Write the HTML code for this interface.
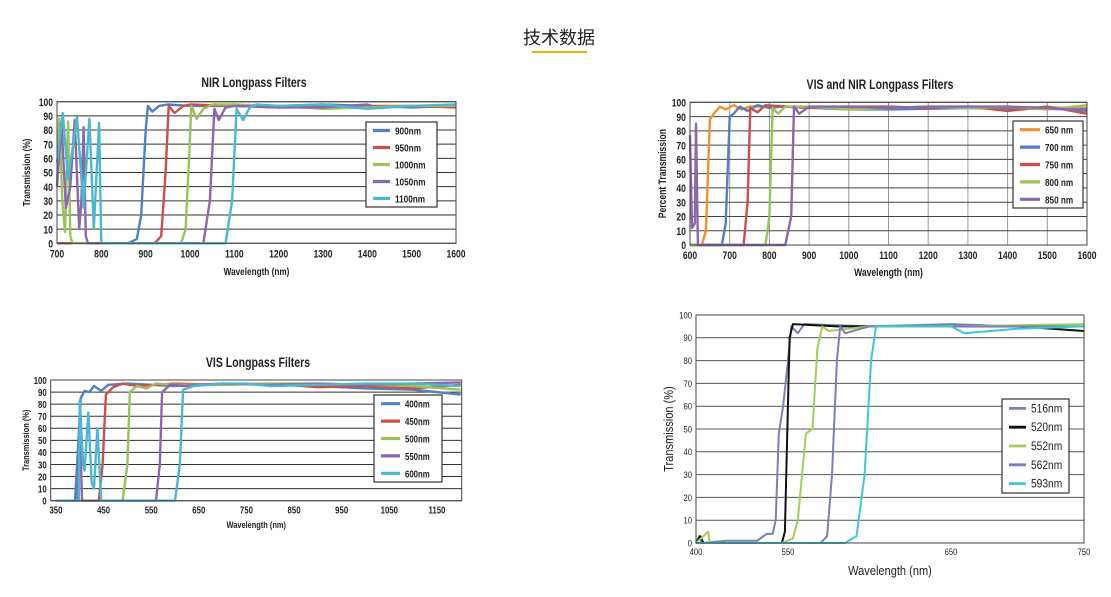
<!DOCTYPE html>
<html><head><meta charset="utf-8"><style>
body{margin:0;background:#fff;}
svg{display:block;font-family:"Liberation Sans Narrow","Liberation Sans",sans-serif;}
</style></head><body>
<svg id="root" width="1111" height="597" viewBox="0 0 1111 597">
<text x="559" y="44" text-anchor="middle" font-size="18" font-family="Liberation Sans, Noto Sans CJK SC, sans-serif" fill="#222">技术数据</text>
<rect x="532" y="51" width="55" height="2" fill="#e8b400"/>
</svg>
<script>
// ---------- data ----------
const nirSeriesNames=["900nm","950nm","1000nm","1050nm","1100nm"];
const nir900x=[700,860,880,890,900,905,915,930,950,1000,1100,1200,1300,1400,1500,1600];
const nir900y=[0,0,3,20,80,97,93,97,98,97,97,97,98,97,96,97];
const nir950x=[700,920,935,945,952,965,985,1000,1100,1200,1300,1400,1500,1600];
const nir950y=[0,0,5,50,97,92,97,98,97,96,97,97,97,96];
const nir1000x=[700,705,712,718,725,730,735,980,990,998,1003,1015,1030,1050,1100,1200,1300,1400,1500,1600];
const nir1000y=[40,88,30,8,86,5,0,0,10,60,97,88,95,98,98,97,95,96,97,97];
const nir1050x=[700,710,720,730,740,750,755,760,765,770,1030,1045,1055,1065,1080,1100,1200,1300,1400,1410];
const nir1050y=[40,85,25,40,87,10,30,82,5,0,0,30,95,87,96,97,96,96,98,97];
const nir1100x=[700,713,725,745,760,773,783,795,800,1080,1095,1105,1120,1135,1150,1200,1300,1400,1500,1600];
const nir1100y=[57,92,45,89,25,88,10,85,0,0,30,95,87,96,98,97,98,95,97,98];
const nirXTicks=[700,800,900,1000,1100,1200,1300,1400,1500,1600];

const visnirSeriesNames=["650 nm","700 nm","750 nm","800 nm","850 nm"];
const vn650x=[600,630,640,650,660,675,690,710,730,750,800,1000,1300,1600];
const vn650y=[0,0,10,88,92,97,95,98,95,97,97,96,97,96];
const vn700x=[600,680,690,700,710,725,745,770,800,830,1000,1100,1300,1600];
const vn700y=[0,0,15,90,92,97,94,98,96,97,95,95,96,95];
const vn750x=[600,735,745,752,770,790,900,1000,1100,1200,1300,1400,1500,1600];
const vn750y=[0,0,30,96,93,98,96,97,97,96,97,94,97,92];
const vn800x=[600,790,800,808,822,840,900,1000,1100,1200,1300,1400,1500,1600];
const vn800y=[0,0,20,96,92,97,97,95,96,97,96,97,95,98];
const vn850x=[600,605,612,615,620,840,855,862,875,900,1000,1100,1200,1300,1400,1500,1600];
const vn850y=[77,12,15,85,0,0,20,97,92,97,97,96,97,97,97,96,94];
const visnirXTicks=[600,700,800,900,1000,1100,1200,1300,1400,1500,1600];

const visSeriesNames=["400nm","450nm","500nm","550nm","600nm"];
const vis400x=[350,390,396,402,410,420,430,445,460,500,600,700,800,900,1000,1100,1200];
const vis400y=[0,0,40,85,91,90,95,91,96,97,95,97,96,95,93,92,88];
const vis450x=[350,440,448,455,470,490,520,600,700,800,900,1000,1100,1200];
const vis450y=[0,0,30,88,94,97,95,97,96,97,94,95,93,96];
const vis500x=[350,490,500,505,520,540,560,600,700,800,900,1000,1100,1200];
const vis500y=[0,0,30,90,95,93,97,96,96,97,97,96,95,92];
const vis550x=[350,395,400,405,560,568,573,590,620,700,800,900,1000,1100,1200];
const vis550y=[0,0,60,0,0,30,90,96,95,97,96,97,96,97,98];
const vis600x=[350,398,400,407,410,418,425,430,437,445,600,610,617,640,700,750,800,900,1000,1100,1200];
const vis600y=[0,0,83,30,25,73,15,10,60,0,0,30,92,95,97,97,95,96,97,97,95];
const visXTicks=[350,450,550,650,750,850,950,1050,1150];

const cSeriesNames=["516nm","520nm","552nm","562nm","593nm"];
const c516x=[400,405,410,450,500,515,525,530,535,542,548,552,556,560,600,650,700,750];
const c516y=[0,3,0,1,1,4,4,10,48,60,75,95,92,96,95,96,95,95];
const c520x=[400,407,412,540,545,548,551,553,580,600,650,700,750];
const c520y=[0,3,0,0,5,40,90,96,95,95,95,95,93];
const c552x=[400,420,422,500,540,553,556,561,565,568,571,575,600,650,750];
const c552y=[0,5,0,0,0,2,10,48,50,85,95,93,95,95,96];
const c562x=[400,570,574,577,580,582,585,600,650,700,750];
const c562y=[0,0,3,30,80,95,92,95,95,95,95];
const c593x=[400,585,592,597,601,604,650,660,700,750];
const c593y=[0,0,3,30,80,95,95,92,94,95];
const cXTicks=[400,550,650,750];

const yTicks=[0,10,20,30,40,50,60,70,80,90,100];

// ---------- drawing ----------
const NS="http://www.w3.org/2000/svg";
const root=document.getElementById('root');
function mk(tag,attrs,parent){const e=document.createElementNS(NS,tag);for(const k in attrs)e.setAttribute(k,attrs[k]);(parent||root).appendChild(e);return e;}

function drawChart(c){
  const g=mk('g',{});
  
  
  const xs=v=>{const t=c.xTicks,p=c.xPix;
    if(c.piece){for(let i=0;i<t.length-1;i++){if(v<=t[i+1]||i==t.length-2)return p[i]+(v-t[i])*(p[i+1]-p[i])/(t[i+1]-t[i]);}}
    return c.L+(v-c.x0)*(c.R-c.L)/(c.x1-c.x0);};
  const ys=v=>c.B-(v/100)*(c.B-c.T);
  const texts=[];
  mk('rect',{x:c.L,y:c.T,width:c.R-c.L,height:c.B-c.T,fill:'#fff'},g);
  if(c.vgrid){c.xTicks.forEach(t=>{const l=mk('line',{x1:xs(t),x2:xs(t),y1:c.T,y2:c.B,stroke:'#999','stroke-width':1},g);
    
    });}
  yTicks.forEach(t=>{
    const l=mk('line',{x1:c.L,x2:c.R,y1:ys(t),y2:ys(t),stroke:c.gridColor,'stroke-width':1},g);
    
    
    const tx=mk('text',{x:c.L-4,y:ys(t)+c.tf*0.38,'text-anchor':'end','font-size':c.tf,'font-weight':c.bold?'bold':'normal',fill:'#222'},g);
    tx.textContent=t;
    
    
    texts.push(tx);
  });
  c.xTicks.forEach(t=>{
    const tx=mk('text',{x:xs(t),y:c.B+c.tf+3,'text-anchor':'middle','font-size':c.tf,'font-weight':c.bold?'bold':'normal',fill:'#222'},g);
    tx.textContent=t;
    
    
    texts.push(tx);
  });
  c.series.forEach((s,i)=>{
    const d=s.x.map((v,j)=>(j?'L':'M')+xs(v).toFixed(1)+','+ys(s.y[j]).toFixed(1)).join('');
    const p=mk('path',{d:d,fill:'none',stroke:c.colors[i],'stroke-width':c.lw,'stroke-linejoin':'round'},g);
    
    
  });
  mk('rect',{x:c.L,y:c.T,width:c.R-c.L,height:c.B-c.T,fill:'none',stroke:'#444','stroke-width':1},g);
  if(c.title){const t=mk('text',{x:c.tx,y:c.ty,'text-anchor':'middle','font-size':13.5,'font-weight':'bold',fill:'#222'},g);
    t.textContent=c.title;
    
    
    texts.push(t);}
  const xt=mk('text',{x:(c.L+c.R)/2,y:c.xty,'text-anchor':'middle','font-size':c.af,'font-weight':c.bold?'bold':'normal',fill:'#222'},g);
  xt.textContent='Wavelength (nm)';
  
  
  texts.push(xt);
  const yt=mk('text',{x:0,y:0,transform:`translate(${c.ytx},${(c.T+c.B)/2}) rotate(-90)`,'text-anchor':'middle','font-size':c.af,'font-weight':c.bold?'bold':'normal',fill:'#222'},g);
  yt.textContent=c.ylabel;
  
  
  texts.push(yt);
  const lg=c.leg;
  const lb=mk('rect',{x:lg.x,y:lg.y,width:lg.w,height:lg.h,fill:'#fff',stroke:'#333','stroke-width':1.2},g);
  
  
  const step=lg.h/5;
  c.names.forEach((n,i)=>{
    const cy=lg.y+step*(i+0.5);
    const ln=mk('line',{x1:lg.x+7,x2:lg.x+7+lg.ll,y1:cy,y2:cy,stroke:c.colors[i],'stroke-width':c.lw+0.8},g);
    
    
    const t=mk('text',{x:lg.x+12+lg.ll,y:cy+4,'font-size':c.lf,'font-weight':c.bold?'bold':'normal',fill:'#222'},g);
    t.textContent=n;
    
    
    texts.push(t);
  });
  texts.forEach(t=>{const w=t.getComputedTextLength();if(w>0){t.setAttribute('textLength',(w*c.cond).toFixed(1));t.setAttribute('lengthAdjust','spacingAndGlyphs');}});
}
const C5=["#4f81c4","#c9504d","#9dc15a","#8a68ad","#4bb8d0"];
drawChart({id:'nir-longpass-chart',L:57,R:456,T:101.7,B:243.3,x0:700,x1:1600,xTicks:nirXTicks,gridColor:'#333',tf:11,af:10.5,lf:10.5,bold:true,lw:2.4,cond:0.78,
  names:nirSeriesNames,colors:C5,title:'NIR Longpass Filters',tx:254,ty:87,xty:275,ytx:30,ylabel:'Transmission (%)',
  series:[{x:nir900x,y:nir900y},{x:nir950x,y:nir950y},{x:nir1000x,y:nir1000y},{x:nir1050x,y:nir1050y},{x:nir1100x,y:nir1100y}],
  leg:{x:366,y:122,w:71,h:85,ll:17}});
drawChart({id:'vis-nir-longpass-chart',L:690,R:1087,T:102.3,B:245,x0:600,x1:1600,xTicks:visnirXTicks,vgrid:true,gridColor:'#444',tf:11,af:11,lf:10.5,bold:true,lw:2.4,cond:0.78,
  names:visnirSeriesNames,colors:["#f0922e","#4f81c4","#c9504d","#9dc15a","#8a68ad"],title:'VIS and NIR Longpass Filters',tx:880,ty:89,xty:276,ytx:666,ylabel:'Percent Transmission',
  series:[{x:vn650x,y:vn650y},{x:vn700x,y:vn700y},{x:vn750x,y:vn750y},{x:vn800x,y:vn800y},{x:vn850x,y:vn850y}],
  leg:{x:1013,y:121,w:70,h:87,ll:20}});
drawChart({id:'vis-longpass-chart',L:50.7,R:461.7,T:380,B:500.7,x0:339,x1:1202,xTicks:visXTicks,gridColor:'#333',tf:10,af:9.5,lf:10,bold:true,lw:2.4,cond:0.78,
  names:visSeriesNames,colors:C5,title:'VIS Longpass Filters',tx:258,ty:367,xty:528,ytx:29,ylabel:'Transmission (%)',
  series:[{x:vis400x,y:vis400y},{x:vis450x,y:vis450y},{x:vis500x,y:vis500y},{x:vis550x,y:vis550y},{x:vis600x,y:vis600y}],
  leg:{x:374,y:395,w:68,h:87,ll:19}});
drawChart({id:'filter-transmission-chart',L:696,R:1084,T:315,B:543,piece:true,xTicks:cXTicks,xPix:[696,788,951,1084],gridColor:'#555',tf:9,af:13,lf:12,bold:false,lw:2,cond:0.85,
  names:cSeriesNames,colors:["#7a7fb8","#111","#a6cc5a","#7a7fb8","#3cc9d2"],title:'',xty:575,ytx:673,ylabel:'Transmission (%)',
  series:[{x:c516x,y:c516y},{x:c520x,y:c520y},{x:c552x,y:c552y},{x:c562x,y:c562y},{x:c593x,y:c593y}],
  leg:{x:1002,y:399,w:67,h:94,ll:17}});
</script>
</body></html>
